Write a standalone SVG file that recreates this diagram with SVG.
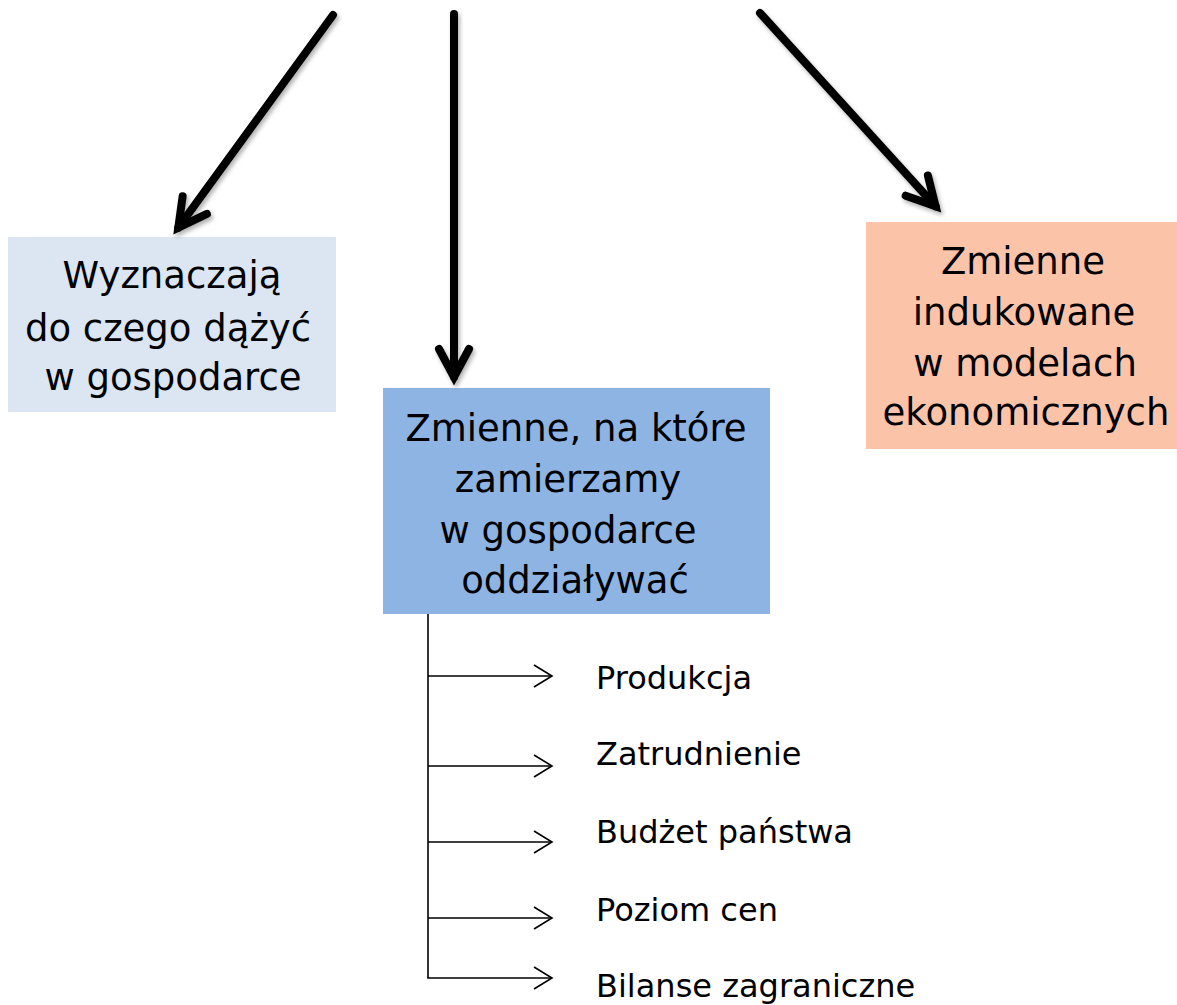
<svg xmlns="http://www.w3.org/2000/svg" width="1177" height="1005" viewBox="0 0 1177 1005">
<style>
  .t { font-family: "DejaVu Sans", Verdana, sans-serif; fill: #000; }
  .big { font-size: 37px; text-anchor: middle; }
  .item { font-size: 32px; }
  .thick { stroke: #000; stroke-width: 8; fill: none; stroke-linecap: round; }
  .thin { stroke: #000; stroke-width: 1.6; fill: none; }
</style>
<defs>
  <filter id="sh" x="-20%" y="-20%" width="140%" height="140%">
    <feDropShadow dx="2" dy="3" stdDeviation="2" flood-color="#000" flood-opacity="0.3"/>
  </filter>
  <marker id="bigHead" markerUnits="userSpaceOnUse" viewBox="-40 -30 60 60" markerWidth="60" markerHeight="60" refX="0" refY="0" orient="auto" overflow="visible">
    <path d="M -28 -15 L 0 0 L -28 15" fill="none" stroke="#000" stroke-width="8" stroke-linecap="round" stroke-linejoin="miter"/>
  </marker>
  <marker id="smallHead" markerUnits="userSpaceOnUse" viewBox="-25 -15 30 30" markerWidth="30" markerHeight="30" refX="0" refY="0" orient="auto" overflow="visible">
    <path d="M -18 -11 L 0 0 L -18 11" fill="none" stroke="#000" stroke-width="1.6"/>
  </marker>
</defs>

<g id="node-cele">
  <rect x="8" y="237" width="328" height="175" fill="#DCE6F2"/>
  <text class="t big" x="172" y="288">Wyznaczają</text>
  <text class="t big" x="168" y="341">do czego dążyć</text>
  <text class="t big" x="173" y="390">w gospodarce</text>
</g>

<g id="node-instrumenty">
  <rect x="383" y="388" width="387" height="226" fill="#8EB4E3"/>
  <text class="t big" x="576" y="441">Zmienne, na które</text>
  <text class="t big" x="568" y="492">zamierzamy</text>
  <text class="t big" x="568" y="543">w gospodarce</text>
  <text class="t big" x="575" y="593">oddziaływać</text>
</g>

<g id="node-indukowane">
  <rect x="866" y="222" width="311" height="227" fill="#FBC4A9"/>
  <text class="t big" x="1023" y="274">Zmienne</text>
  <text class="t big" x="1024" y="325">indukowane</text>
  <text class="t big" x="1025" y="376">w modelach</text>
  <text class="t big" x="1026" y="425">ekonomicznych</text>
</g>

<g id="items">
  <text class="t item" x="596" y="689">Produkcja</text>
  <text class="t item" x="596" y="765">Zatrudnienie</text>
  <text class="t item" x="596" y="843">Budżet państwa</text>
  <text class="t item" x="596" y="921">Poziom cen</text>
  <text class="t item" x="596" y="997">Bilanse zagraniczne</text>
</g>

<g id="connectors">
  <g filter="url(#sh)">
    <line class="thick" x1="333" y1="15" x2="178.3" y2="227.7" marker-end="url(#bigHead)"/>
    <line class="thick" x1="454" y1="14" x2="454" y2="377" marker-end="url(#bigHead)"/>
    <line class="thick" x1="760" y1="13" x2="935.6" y2="206.3" marker-end="url(#bigHead)"/>
  </g>
  <line class="thin" x1="428" y1="614" x2="428" y2="978"/>
  <line class="thin" x1="428" y1="676" x2="552" y2="676" marker-end="url(#smallHead)"/>
  <line class="thin" x1="428" y1="766" x2="552" y2="766" marker-end="url(#smallHead)"/>
  <line class="thin" x1="428" y1="842" x2="552" y2="842" marker-end="url(#smallHead)"/>
  <line class="thin" x1="428" y1="918" x2="552" y2="918" marker-end="url(#smallHead)"/>
  <line class="thin" x1="427.2" y1="978" x2="552" y2="978" marker-end="url(#smallHead)"/>
</g>
</svg>
